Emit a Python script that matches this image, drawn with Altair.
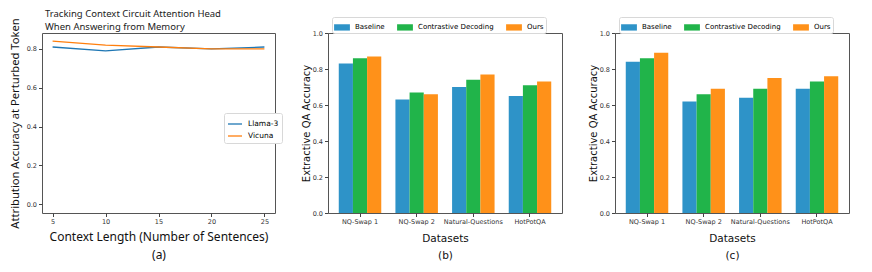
import altair as alt
import pandas as pd

# Panel (a) data
ctx_len = [5, 10, 15, 20, 25]
llama3 = [0.81, 0.79, 0.81, 0.80, 0.81]
vicuna = [0.84, 0.82, 0.81, 0.80, 0.80]

# Panel (b)/(c) data
datasets = ["NQ-Swap 1", "NQ-Swap 2", "Natural-Questions", "HotPotQA"]
methods = ["Baseline", "Contrastive Decoding", "Ours"]
b_baseline = [0.83, 0.63, 0.70, 0.65]
b_cd = [0.86, 0.67, 0.74, 0.71]
b_ours = [0.87, 0.66, 0.77, 0.73]
c_baseline = [0.84, 0.62, 0.64, 0.69]
c_cd = [0.86, 0.66, 0.69, 0.73]
c_ours = [0.89, 0.69, 0.75, 0.76]

bar_colors = ["#2E93C8", "#21B44A", "#FF9119"]
line_colors = ["#1f77b4", "#ff7f0e"]

TICK_FONT = "DejaVu Sans"
A_FONT = "Noto Sans"

line_df = pd.DataFrame(
    [{"x": x, "y": y, "model": "Llama-3"} for x, y in zip(ctx_len, llama3)]
    + [{"x": x, "y": y, "model": "Vicuna"} for x, y in zip(ctx_len, vicuna)]
)

def bar_df(base, cd, ours):
    rows = []
    for vals, m in zip([base, cd, ours], methods):
        for d, v in zip(datasets, vals):
            rows.append({"dataset": d, "method": m, "acc": v})
    return pd.DataFrame(rows)

panel_a = alt.Chart(line_df).mark_line(strokeWidth=1.3).encode(
    x=alt.X("x:Q", scale=alt.Scale(domain=[4, 26], nice=False, zero=False),
            axis=alt.Axis(values=ctx_len, format="d", grid=False,
                          title=["Context Length (Number of Sentences)", "(a)"],
                          titleFont=A_FONT, titleFontSize=12, titleFontWeight="normal",
                          titleLineHeight=18, titlePadding=6)),
    y=alt.Y("y:Q", scale=alt.Scale(domain=[-0.045, 0.882], nice=False, zero=False),
            axis=alt.Axis(values=[0.0, 0.2, 0.4, 0.6, 0.8], format=".1f", grid=False,
                          title="Attribution Accuracy at Perturbed Token",
                          titleFont=A_FONT, titleFontSize=11.2, titleFontWeight="normal",
                          titlePadding=6)),
    color=alt.Color("model:N", scale=alt.Scale(domain=["Llama-3", "Vicuna"], range=line_colors),
                    legend=alt.Legend(orient="none", legendX=182, legendY=80, title=None,
                                      symbolType="stroke", symbolSize=196, symbolStrokeWidth=1.3,
                                      labelFont=TICK_FONT, labelFontSize=7.5,
                                      strokeColor="#d8d8d8", fillColor="white", padding=3,
                                      cornerRadius=2, rowPadding=0, labelOffset=5)),
).properties(
    width=233, height=180,
    title=alt.TitleParams(["Tracking Context Circuit Attention Head", "When Answering from Memory"],
                          anchor="start", frame="group", font=A_FONT, fontSize=9.5,
                          fontWeight="normal", lineHeight=13, offset=-14, color="#222", dx=3),
)

def bar_panel(df, label):
    return alt.Chart(df).mark_bar().encode(
        x=alt.X("dataset:N", sort=datasets,
                scale=alt.Scale(paddingInner=0.25, paddingOuter=0.19),
                axis=alt.Axis(labelAngle=0, title=["Datasets", label],
                              titleFont=TICK_FONT, titleFontSize=10.5, titleFontWeight="normal",
                              titleLineHeight=17, titlePadding=8)),
        xOffset=alt.XOffset("method:N", sort=methods),
        y=alt.Y("acc:Q", scale=alt.Scale(domain=[0, 1], nice=False),
                axis=alt.Axis(values=[0.0, 0.2, 0.4, 0.6, 0.8, 1.0], format=".1f", grid=False,
                              title="Extractive QA Accuracy",
                              titleFont=TICK_FONT, titleFontSize=10, titleFontWeight="normal",
                              titlePadding=1)),
        color=alt.Color("method:N", sort=methods,
                        scale=alt.Scale(domain=methods, range=bar_colors),
                        legend=alt.Legend(orient="none", legendX=4, legendY=-16, title=None,
                                          direction="horizontal",
                                          symbolType="M-1,-0.4H1V0.4H-1Z", symbolSize=250,
                                          symbolStrokeWidth=0,
                                          labelFont=TICK_FONT, labelFontSize=7,
                                          strokeColor="#d8d8d8", fillColor="white", padding=2,
                                          cornerRadius=2, columnPadding=12, labelOffset=5)),
    ).properties(width=234, height=180)

panel_b = bar_panel(bar_df(b_baseline, b_cd, b_ours), "(b)")
panel_c = bar_panel(bar_df(c_baseline, c_cd, c_ours), "(c)")

chart = alt.hconcat(panel_a, panel_b, panel_c, spacing=53, bounds="flush").resolve_scale(
    color="independent", x="independent", y="independent", xOffset="independent"
).resolve_legend(color="independent").configure(
    padding={"left": 0, "top": 0, "right": 0, "bottom": 0},
).configure_view(
    stroke="#555", strokeWidth=1,
).configure_axis(
    labelFont=TICK_FONT, labelFontSize=6.5, labelColor="#333",
    tickColor="#444", tickSize=3.5, domain=False, labelPadding=2,
    titleColor="#111",
).configure_concat(spacing=53)

chart.save("out.html", embed_options={"renderer": "svg", "actions": False})
